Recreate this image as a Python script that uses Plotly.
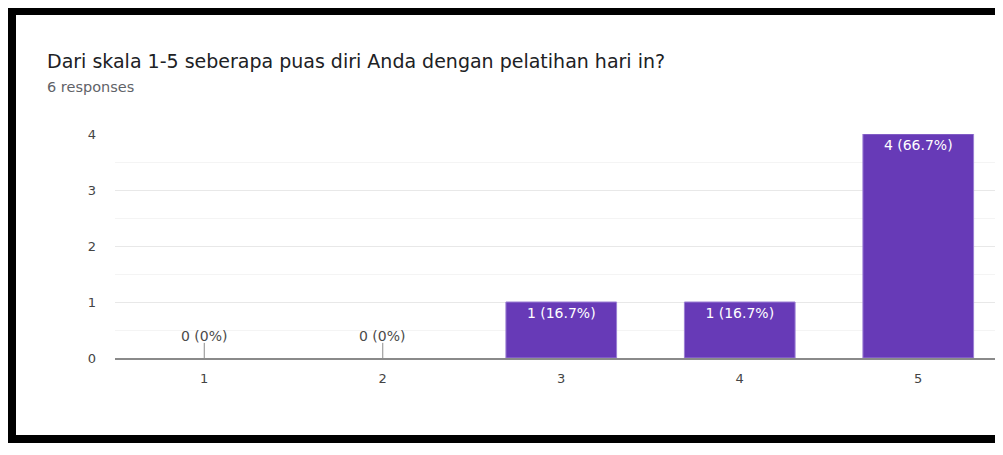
import plotly.graph_objects as go

# ---- data ----
categories = [1, 2, 3, 4, 5]
counts = [0, 0, 1, 1, 4]
y_ticks = [0, 1, 2, 3, 4]
title_text = "Dari skala 1-5 seberapa puas diri Anda dengan pelatihan hari in?"
subtitle_text = "6 responses"

total = sum(counts)
pcts = [round(c / total * 100, 1) for c in counts]
labels = [f"{c} ({p:g}%)" for c, p in zip(counts, pcts)]

# page has an 8px body margin: the figure starts at window (8, 8);
# keep the figure small enough that no scrollbars appear
OFF = 8
W, H = 1003 - 2 * OFF, 455 - 2 * OFF - 4
ML, MR, MT = 115 - OFF, 0, 134 - OFF
MB = H - (358 - OFF)
PW, PH = W - ML - MR, H - MT - MB


def px_x(xw):
    return (xw - OFF - ML) / PW


def px_y(yw):
    return 1 - (yw - OFF - MT) / PH


BAR = "#673ab7"
FONT = "DejaVu Sans, Verdana, sans-serif"

fig = go.Figure()
fig.add_trace(go.Bar(
    x=categories,
    y=counts,
    width=0.62,
    marker=dict(color=BAR,
                line=dict(color="#9b7fd4", width=[0 if c == 0 else 1 for c in counts])),
    text=[lab if c > 0 else "" for lab, c in zip(labels, counts)],
    textposition="inside",
    insidetextanchor="end",
    textfont=dict(color="white", size=14, family=FONT),
    error_y=dict(type="data", symmetric=False,
                 array=[0.27 if c == 0 else 0 for c in counts],
                 arrayminus=[0 for _ in counts],
                 width=0, thickness=1, color="#8c8c8c"),
    hoverinfo="skip",
    showlegend=False,
))

# labels for zero-count categories
for cat, c, lab in zip(categories, counts, labels):
    if c == 0:
        fig.add_annotation(x=cat, y=c, text=lab, showarrow=False,
                           yanchor="bottom", yshift=12,
                           font=dict(size=14, color="#4a4a4a", family=FONT))

# title & subtitle
fig.add_annotation(xref="paper", yref="paper", x=px_x(45), y=px_y(61),
                   xanchor="left", yanchor="middle", showarrow=False,
                   text=title_text,
                   font=dict(size=19, color="#202124", family=FONT))
fig.add_annotation(xref="paper", yref="paper", x=px_x(45), y=px_y(87),
                   xanchor="left", yanchor="middle", showarrow=False,
                   text=subtitle_text,
                   font=dict(size=14.5, color="#5f6368", family=FONT))

# black frame (top, left, bottom), kept inside the figure
right = OFF + W
bottom = OFF + H
frame = [
    (8, right, 8, 15),
    (8, 16, 8, bottom),
    (8, right, bottom - 8, bottom),
]
for x0, x1, y0, y1 in frame:
    fig.add_shape(type="rect", xref="paper", yref="paper", layer="above",
                  x0=px_x(x0), x1=px_x(x1), y0=px_y(y0), y1=px_y(y1),
                  fillcolor="#000000", line=dict(width=0))

fig.update_layout(
    width=W, height=H,
    margin=dict(l=ML, r=MR, t=MT, b=MB, pad=0),
    paper_bgcolor="white",
    plot_bgcolor="white",
    font=dict(family=FONT, color="#444444", size=13),
)
fig.update_xaxes(
    range=[0.5, 0.5 + PW / 178.5],
    tickmode="array", tickvals=categories, ticktext=[str(c) for c in categories],
    showgrid=False, zeroline=False,
    showline=True, linecolor="#8a8a8a", linewidth=2,
    ticks="", ticklabelstandoff=7,
    tickfont=dict(size=13, color="#444444"),
    fixedrange=True,
)
fig.update_yaxes(
    range=[0, 4],
    tickmode="array", tickvals=y_ticks, ticktext=[str(v) for v in y_ticks],
    showgrid=True, gridcolor="#e8e8e8", gridwidth=1,
    minor=dict(dtick=0.5, showgrid=True, gridcolor="#f4f4f4", gridwidth=1),
    zeroline=False, showline=False,
    ticks="", ticklabelstandoff=18,
    tickfont=dict(size=13, color="#444444"),
    fixedrange=True,
)

fig.write_html("out.html")
